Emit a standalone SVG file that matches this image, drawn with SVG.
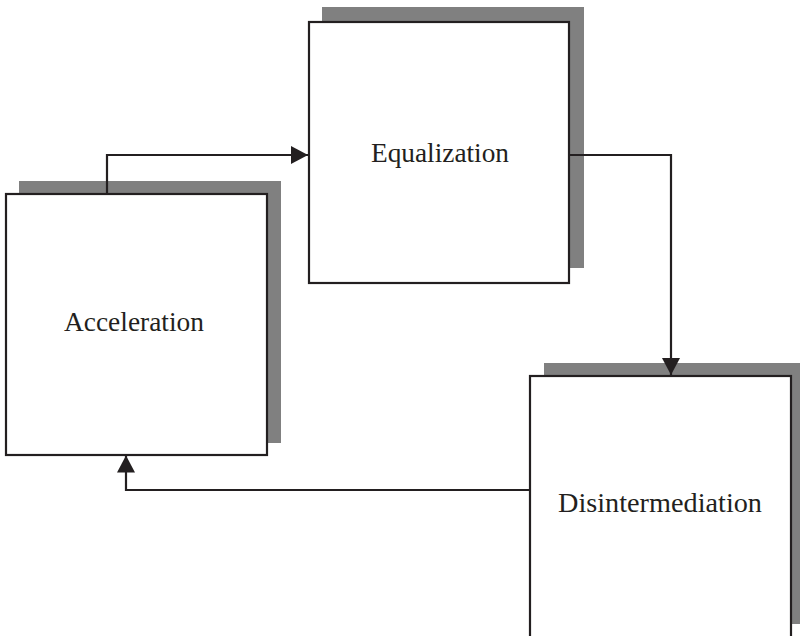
<svg xmlns="http://www.w3.org/2000/svg" width="800" height="636" viewBox="0 0 800 636">
  <style>
    .shadow { fill: #808080; }
    .box { fill: #ffffff; stroke: #231f20; stroke-width: 2.2; }
    .label { font-family: "Liberation Serif", "Times New Roman", serif; font-size: 27px; fill: #231f20; text-anchor: middle; }
    .wire { fill: none; stroke: #231f20; stroke-width: 2.2; }
  </style>
  <defs>
    <marker id="arrow" viewBox="0 0 17 18" refX="17" refY="9" markerWidth="17" markerHeight="18" markerUnits="userSpaceOnUse" orient="auto">
      <path d="M0,0 L17,9 L0,18 Z" fill="#231f20"/>
    </marker>
  </defs>
  <rect width="800" height="636" fill="#ffffff"/>

  <g id="node-acceleration">
    <rect class="shadow" x="19" y="181" width="262" height="262"/>
    <rect class="box" x="6" y="194" width="261" height="261"/>
    <text class="label" x="134" y="331" textLength="140" lengthAdjust="spacingAndGlyphs">Acceleration</text>
  </g>

  <g id="node-equalization">
    <rect class="shadow" x="322" y="7" width="262" height="261"/>
    <rect class="box" x="309" y="22" width="260" height="261"/>
    <text class="label" x="440" y="162" textLength="138" lengthAdjust="spacingAndGlyphs">Equalization</text>
  </g>

  <g id="node-disintermediation">
    <rect class="shadow" x="544" y="363" width="260" height="261"/>
    <rect class="box" x="530" y="376" width="261" height="270"/>
    <text class="label" x="660" y="512" textLength="204" lengthAdjust="spacingAndGlyphs">Disintermediation</text>
  </g>

  <g id="connectors">
    <path class="wire" d="M107,193 V155 H308" marker-end="url(#arrow)"/>
    <path class="wire" d="M570,155 H671 V375" marker-end="url(#arrow)"/>
    <path class="wire" d="M529,490 H126 V455.5" marker-end="url(#arrow)"/>
  </g>
</svg>
